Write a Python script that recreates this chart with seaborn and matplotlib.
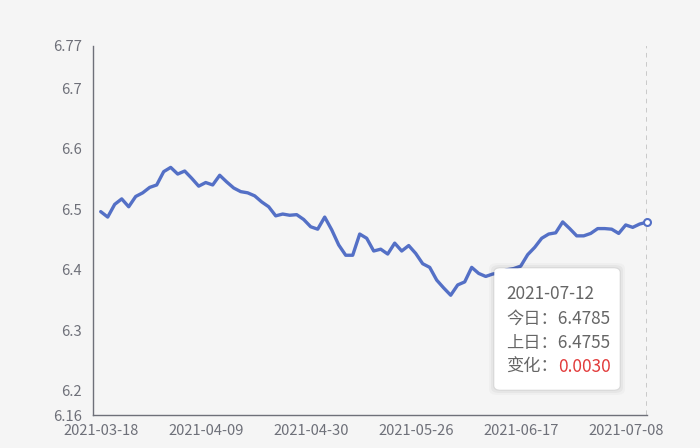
import numpy as np
import pandas as pd
import seaborn as sns
import matplotlib
matplotlib.use("Agg")
import matplotlib.pyplot as plt
from matplotlib.patches import FancyBboxPatch

# ---- data ----
values = [
    6.496, 6.487, 6.508, 6.517, 6.504, 6.521, 6.527, 6.536, 6.540, 6.562,
    6.569, 6.558, 6.563, 6.551, 6.538, 6.544, 6.540, 6.556, 6.545, 6.535,
    6.529, 6.527, 6.522, 6.512, 6.504, 6.489, 6.492, 6.490, 6.491, 6.483,
    6.471, 6.467, 6.487, 6.466, 6.441, 6.424, 6.424, 6.459, 6.452, 6.431,
    6.434, 6.426, 6.444, 6.431, 6.440, 6.427, 6.410, 6.404, 6.383, 6.370,
    6.358, 6.375, 6.380, 6.404, 6.394, 6.389, 6.393, 6.395, 6.400, 6.402,
    6.406, 6.425, 6.437, 6.452, 6.459, 6.461, 6.479, 6.468, 6.456, 6.456,
    6.460, 6.468, 6.468, 6.467, 6.460, 6.474, 6.470, 6.4755, 6.4785,
]
tick_labels = ["2021-03-18", "2021-04-09", "2021-04-30", "2021-05-26", "2021-06-17", "2021-07-08"]
tick_step = 15
y_ticks = [6.16, 6.2, 6.3, 6.4, 6.5, 6.6, 6.7, 6.77]
y_tick_labels = ["6.16", "6.2", "6.3", "6.4", "6.5", "6.6", "6.7", "6.77"]
y_min, y_max = 6.16, 6.77
tip_date = "2021-07-12"
tip_today = "6.4785"
tip_prev = "6.4755"
tip_change = "0.0030"

df = pd.DataFrame({"idx": np.arange(len(values)), "value": values})

# ---- style ----
sns.set_style("white")
plt.rcParams["font.family"] = ["Noto Sans CJK SC", "DejaVu Sans"]
BG = "#f5f5f5"
AXC = "#6e7079"
LINE = "#5470c6"

W, H = 700, 448
fig = plt.figure(figsize=(W / 100, H / 100), dpi=100, facecolor=BG)
ax = fig.add_axes([93 / W, (H - 415.2) / H, (646.7 - 93) / W, (415.2 - 45.6) / H])
ax.set_facecolor(BG)

sns.lineplot(data=df, x="idx", y="value", ax=ax, color=LINE, linewidth=2.4,
             solid_joinstyle="round", solid_capstyle="round", zorder=3)

n = len(values)
ax.set_xlim(-1.1, n - 1)
ax.set_ylim(y_min, y_max)

# axis pointer (dashed) at last point
ax.axvline(n - 1, color="#bdbdbd", linestyle=(0, (3, 3)), linewidth=1.1, zorder=2)
ax.plot([n - 1], [values[-1]], marker="o", markersize=5, markerfacecolor="white",
        markeredgecolor=LINE, markeredgewidth=1.5, zorder=4, clip_on=False)

ax.set_xticks([i * tick_step for i in range(len(tick_labels))] + [n - 1])
ax.set_xticklabels(tick_labels + [""])
ax.set_yticks(y_ticks)
ax.set_yticklabels(y_tick_labels)
ax.tick_params(axis="x", length=4, width=1, color=AXC, pad=2, labelsize=10.6, labelcolor=AXC)
ax.tick_params(axis="y", length=0, pad=8, labelsize=10.6, labelcolor=AXC)
ax.set_xlabel("")
ax.set_ylabel("")

for s in ["top", "right"]:
    ax.spines[s].set_visible(False)
for s in ["left", "bottom"]:
    ax.spines[s].set_color(AXC)
    ax.spines[s].set_linewidth(1)

# ---- tooltip ----
def px(x, y):
    return x / W, (H - y) / H

bx0, by0, bx1, by1 = 495, 269, 619, 389
for k, a in [(6, 0.025), (4, 0.035), (2, 0.05)]:
    sh = FancyBboxPatch(px(bx0 - k, by1 + k), (bx1 - bx0 + 2 * k) / W, (by1 - by0 + 2 * k) / H,
                        boxstyle="round,pad=0,rounding_size=0.012", transform=fig.transFigure,
                        facecolor="black", edgecolor="none", alpha=a, zorder=9)
    fig.patches.append(sh)
box = FancyBboxPatch(px(bx0, by1), (bx1 - bx0) / W, (by1 - by0) / H,
                     boxstyle="round,pad=0,rounding_size=0.008", transform=fig.transFigure,
                     facecolor="white", edgecolor="white", linewidth=1, zorder=10)
fig.patches.append(box)

TC = "#666666"
fs = 12.4
tx = 506
fig.text(*px(tx, 294), tip_date, color=TC, fontsize=fs, va="center", ha="left", zorder=11)
fig.text(*px(tx, 319), "今日：" + tip_today, color=TC, fontsize=fs, va="center", ha="left", zorder=11)
fig.text(*px(tx, 343), "上日：" + tip_prev, color=TC, fontsize=fs, va="center", ha="left", zorder=11)
t = fig.text(*px(tx, 367), "变化：", color=TC, fontsize=fs, va="center", ha="left", zorder=11)
fig.canvas.draw()
bb = t.get_window_extent()
fig.text(bb.x1 / W, (H - 367) / H, tip_change, color="#e23b3b", fontsize=fs,
         va="center", ha="left", zorder=11)

fig.savefig("out.png", dpi=100, facecolor=BG)
